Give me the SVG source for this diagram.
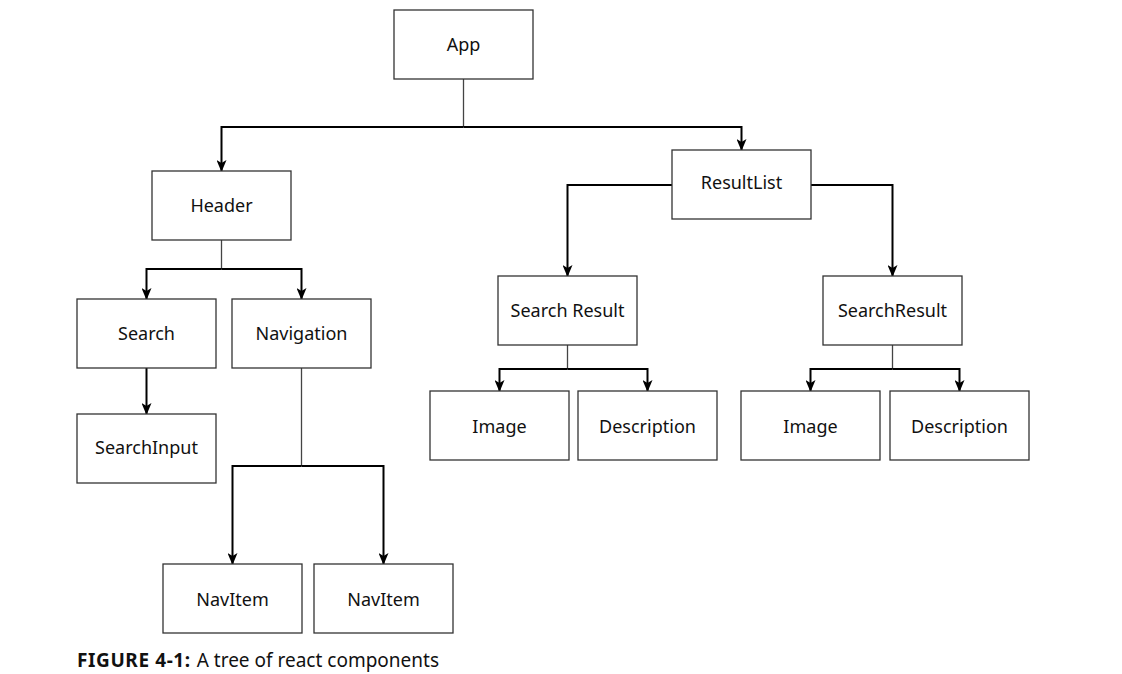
<svg xmlns="http://www.w3.org/2000/svg" width="1122" height="674" viewBox="0 0 1122 674">
<style>
.box{fill:#fff;stroke:#333;stroke-width:1.3}
.lbl{font-family:"Noto Sans","Open Sans",sans-serif;font-size:18px;fill:#111;text-anchor:middle;dominant-baseline:central}
.stem{fill:none;stroke:#444;stroke-width:1.3}
.arr{fill:none;stroke:#000;stroke-width:2;marker-end:url(#ah)}
.cap{font-family:"Noto Sans","Open Sans",sans-serif;font-size:19px;fill:#111}
</style>
<defs>
<marker id="ah" viewBox="0 0 12 10" refX="11" refY="5" markerWidth="12" markerHeight="10" markerUnits="userSpaceOnUse" orient="auto">
<path d="M0,0 L12,5 L0,10 L3,5 z" fill="#000"/>
</marker>
</defs>
<rect width="1122" height="674" fill="#fff"/>
<g id="connectors">
<path class="stem" d="M463.5,79 V127"/>
<path class="arr" d="M463.5,127 H221.5 V171"/>
<path class="arr" d="M463.5,127 H741.5 V150"/>
<path class="arr" d="M672,185 H567.5 V276"/>
<path class="arr" d="M811,185 H892.5 V276"/>
<path class="stem" d="M567.5,345 V369"/>
<path class="arr" d="M567.5,369 H499.5 V391"/>
<path class="arr" d="M567.5,369 H647.5 V391"/>
<path class="stem" d="M892.5,345 V369"/>
<path class="arr" d="M892.5,369 H810.5 V391"/>
<path class="arr" d="M892.5,369 H959.5 V391"/>
<path class="stem" d="M221.5,240 V269"/>
<path class="arr" d="M221.5,269 H146.5 V299"/>
<path class="arr" d="M221.5,269 H301.5 V299"/>
<path class="arr" d="M146.5,368 V414"/>
<path class="stem" d="M301.5,368 V466"/>
<path class="arr" d="M301.5,466 H232.5 V564"/>
<path class="arr" d="M301.5,466 H383.5 V564"/>
</g>
<g id="app"><rect class="box" x="394" y="10" width="139" height="69"/><text class="lbl" x="463.5" y="44">App</text></g>
<g id="header"><rect class="box" x="152" y="171" width="139" height="69"/><text class="lbl" x="221.5" y="205">Header</text></g>
<g id="resultlist"><rect class="box" x="672" y="150" width="139" height="69"/><text class="lbl" x="741.5" y="181.5">ResultList</text></g>
<g id="searchresult1"><rect class="box" x="498" y="276" width="139" height="69"/><text class="lbl" x="567.5" y="310">Search Result</text></g>
<g id="searchresult2"><rect class="box" x="823" y="276" width="139" height="69"/><text class="lbl" x="892.5" y="310">SearchResult</text></g>
<g id="image1"><rect class="box" x="430" y="391" width="139" height="69"/><text class="lbl" x="499.5" y="425.5">Image</text></g>
<g id="description1"><rect class="box" x="578" y="391" width="139" height="69"/><text class="lbl" x="647.5" y="425.5">Description</text></g>
<g id="image2"><rect class="box" x="741" y="391" width="139" height="69"/><text class="lbl" x="810.5" y="425.5">Image</text></g>
<g id="description2"><rect class="box" x="890" y="391" width="139" height="69"/><text class="lbl" x="959.5" y="425.5">Description</text></g>
<g id="search"><rect class="box" x="77" y="299" width="139" height="69"/><text class="lbl" x="146.5" y="333">Search</text></g>
<g id="navigation"><rect class="box" x="232" y="299" width="139" height="69"/><text class="lbl" x="301.5" y="333">Navigation</text></g>
<g id="searchinput"><rect class="box" x="77" y="414" width="139" height="69"/><text class="lbl" x="146.5" y="446.5">SearchInput</text></g>
<g id="navitem1"><rect class="box" x="163" y="564" width="139" height="69"/><text class="lbl" x="232.5" y="598.5">NavItem</text></g>
<g id="navitem2"><rect class="box" x="314" y="564" width="139" height="69"/><text class="lbl" x="383.5" y="598.5">NavItem</text></g>
<text class="cap" x="77" y="667"><tspan font-weight="bold" letter-spacing="0.6">FIGURE 4-1:</tspan><tspan dx="6">A tree of react components</tspan></text>
</svg>
